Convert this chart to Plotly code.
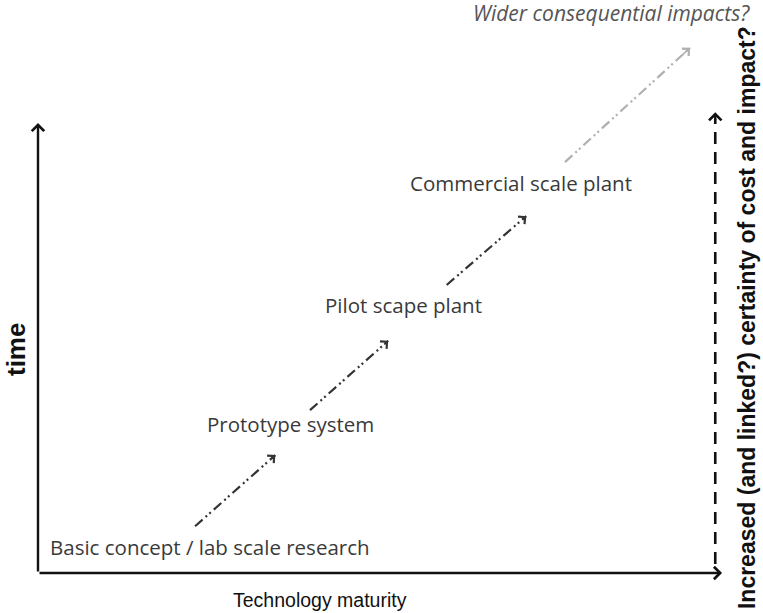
import plotly.graph_objects as go

# ---- data (maturity %, time %) ----
stages = ["Basic concept / lab scale research", "Prototype system",
          "Pilot scape plant", "Commercial scale plant"]
stage_maturity = [25.3, 37.1, 53.8, 71.0]
stage_time = [5.8, 33.1, 59.6, 86.7]

outlook_label = "Wider consequential impacts?"
outlook_maturity = 84.3
outlook_time = 124.4

# transition arrows: start/end (maturity, time)
trans_x0 = [23.1, 40.0, 60.1, 77.5]
trans_y0 = [10.4, 36.2, 64.0, 91.3]
trans_x1 = [34.9, 51.5, 71.8, 95.9]
trans_y1 = [26.2, 51.6, 79.3, 116.7]
trans_color = ["#333333", "#333333", "#333333", "#b0b0b0"]

x_axis_title = "Technology maturity"
y_axis_title = "time"
right_title = "Increased (and linked?) certainty of cost and impact?"
x_axis_end = 100.6
y_axis_end = 100.0
certainty_x = 99.6
certainty_top = 102.4

# ---- figure ----
fig = go.Figure()

dash_pattern = "10px,4px,2px,3px,2px,4px"
annotations = []
for x0, y0, x1, y1, c in zip(trans_x0, trans_y0, trans_x1, trans_y1, trans_color):
    fig.add_trace(go.Scatter(x=[x0, x1], y=[y0, y1], mode="lines",
                             line=dict(color=c, width=2.2, dash=dash_pattern),
                             hoverinfo="skip", showlegend=False))
    annotations.append(dict(x=x1, y=y1, ax=x1 - 0.07 * (x1 - x0), ay=y1 - 0.07 * (y1 - y0),
                            xref="x", yref="y", axref="x", ayref="y", text="",
                            showarrow=True, arrowhead=4, arrowsize=1.2, arrowwidth=1.6,
                            arrowcolor=c, standoff=0))

# certainty dashed arrow
fig.add_trace(go.Scatter(x=[certainty_x, certainty_x], y=[2.0, certainty_top - 1.5], mode="lines",
                         line=dict(color="#111111", width=2.6, dash="12px,8px"),
                         hoverinfo="skip", showlegend=False))
annotations.append(dict(x=certainty_x, y=certainty_top, ax=certainty_x, ay=certainty_top - 2,
                        xref="x", yref="y", axref="x", ayref="y", text="",
                        showarrow=True, arrowhead=4, arrowsize=1.0, arrowwidth=2.4,
                        arrowcolor="#111111", standoff=0))

# main axes
annotations.append(dict(x=x_axis_end, y=0, ax=0, ay=0, xref="x", yref="y", axref="x", ayref="y",
                        text="", showarrow=True, arrowhead=4, arrowsize=1.0, arrowwidth=2.4,
                        arrowcolor="#111111", standoff=0))
annotations.append(dict(x=0, y=y_axis_end, ax=0, ay=0, xref="x", yref="y", axref="x", ayref="y",
                        text="", showarrow=True, arrowhead=4, arrowsize=1.0, arrowwidth=2.4,
                        arrowcolor="#111111", standoff=0))

# stage labels
for s, mx, ty in zip(stages, stage_maturity, stage_time):
    annotations.append(dict(x=mx, y=ty, text=s, showarrow=False, xref="x", yref="y",
                            xanchor="center", yanchor="middle",
                            font=dict(family="Open Sans", size=20.5, color="#3a3a3a")))
annotations.append(dict(x=outlook_maturity, y=outlook_time, text="<i>" + outlook_label + "</i>",
                        showarrow=False, xref="x", yref="y", xanchor="center", yanchor="middle",
                        font=dict(family="Open Sans", size=21, color="#555555")))

# axis titles
annotations.append(dict(x=41.5, y=-5.9, text=x_axis_title, showarrow=False, xref="x", yref="y",
                        xanchor="center", yanchor="middle",
                        font=dict(family="Liberation Sans", size=19.5, color="#111111")))
annotations.append(dict(x=-3.2, y=49.6, text="<b>" + y_axis_title + "</b>", showarrow=False,
                        xref="x", yref="y", textangle=-90, xanchor="center", yanchor="middle",
                        font=dict(family="Liberation Sans", size=26, color="#111111")))
annotations.append(dict(x=104.3, y=56.7, text="<b>" + right_title + "</b>", showarrow=False,
                        xref="x", yref="y", textangle=-90, xanchor="center", yanchor="middle",
                        font=dict(family="Liberation Sans", size=23, color="#111111")))

fig.update_layout(
    width=763, height=613,
    margin=dict(l=0, r=0, t=0, b=0),
    paper_bgcolor="white", plot_bgcolor="white",
    xaxis=dict(range=[-5.588, 106.62], visible=False, fixedrange=True),
    yaxis=dict(range=[-8.889, 127.33], visible=False, fixedrange=True),
    annotations=annotations,
    showlegend=False,
)

fig.write_html("out.html", config={"displayModeBar": False},
               post_script="document.body.style.margin='0';document.body.style.overflow='hidden';")
